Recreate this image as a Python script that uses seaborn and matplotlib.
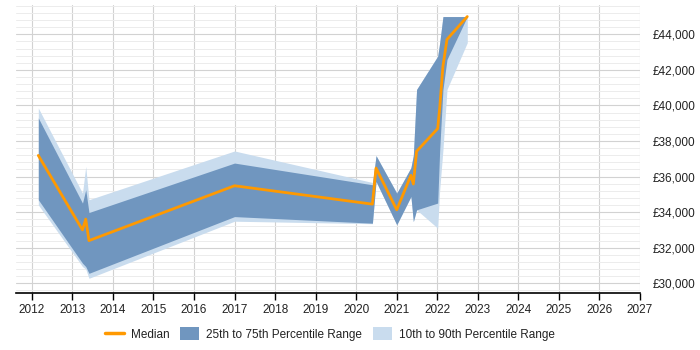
import matplotlib
matplotlib.use("Agg")
import matplotlib.pyplot as plt
from matplotlib.lines import Line2D
from matplotlib.patches import Patch
from matplotlib.ticker import MultipleLocator, FuncFormatter
import seaborn as sns
import pandas as pd

# ---- data ----
years = [2012.16, 2013.25, 2013.33, 2013.41, 2017.0, 2020.40, 2020.49, 2021.0,
         2021.35, 2021.41, 2021.49, 2022.01, 2022.06, 2022.14, 2022.24, 2022.74]
median = [37190, 33000, 33610, 32400, 35485, 34450, 36480, 34130,
          36070, 35580, 37420, 38700, 39860, 42210, 43715, 45000]
p75 = [39300, 34510, 35260, 33980, 36760, 35540, 37180, 35070,
       36500, 37200, 40900, 42770, 43530, 45000, 45000, 45000]
p25 = [34700, 31130, 30940, 30560, 33750, 33380, 35730, 33290,
       34880, 33470, 34130, 34510, 37510, 40900, 42590, 45000]
p90 = [39860, 35070, 36570, 34700, 37440, 35670, 37180, 35070,
       36500, 37200, 40900, 42770, 43530, 45000, 45000, 45000]
p10 = [34410, 30940, 30800, 30280, 33490, 33350, 35730, 33290,
       34880, 33470, 34130, 33100, 35260, 37510, 40900, 43530]
year_ticks = list(range(2012, 2028))
legend_labels = ["Median", "25th to 75th Percentile Range", "10th to 90th Percentile Range"]

df = pd.DataFrame({"year": years, "median": median, "p25": p25, "p75": p75,
                   "p10": p10, "p90": p90})

sns.set_theme(style="white")
plt.rcParams["font.family"] = ["Liberation Sans", "DejaVu Sans"]

ORANGE = "#ff9900"
DARK = "#7096bf"
LIGHT = "#c9dcee"
TEXT = "#222222"

fig = plt.figure(figsize=(7, 3.5), dpi=100)
ax = fig.add_axes([16 / 700, 1 - 292.7 / 350, (640 - 16) / 700, (292.7 - 5) / 350])

ax.fill_between(df["year"], df["p10"], df["p90"], color=LIGHT, linewidth=0, zorder=2)
ax.fill_between(df["year"], df["p25"], df["p75"], color=DARK, linewidth=0, zorder=3)
sns.lineplot(data=df, x="year", y="median", ax=ax, color=ORANGE, linewidth=2,
             zorder=4, legend=False)

ax.set_xlim(2011.61, 2027.0)
ax.set_ylim(29470, 45650)

ax.set_xticks(year_ticks)
ax.set_xticklabels([str(y) for y in year_ticks], fontsize=8.5, color=TEXT)
ax.yaxis.set_major_locator(MultipleLocator(2000))
ax.yaxis.set_minor_locator(MultipleLocator(400))
ax.yaxis.set_major_formatter(FuncFormatter(lambda v, p: f"£{int(v):,}"))
ax.yaxis.tick_right()
ax.tick_params(axis="y", which="both", length=0, pad=9, labelsize=8.5, labelcolor=TEXT)
ax.tick_params(axis="x", which="major", length=5, width=1, color="black",
               pad=3, direction="out", bottom=True)

ax.grid(which="major", axis="y", color="#d2d2d2", linewidth=0.8, zorder=0)
ax.grid(which="minor", axis="y", color="#ececec", linewidth=0.7, zorder=0)
ax.grid(which="major", axis="x", color="#d2d2d2", linewidth=0.8, zorder=0)
ax.set_axisbelow(True)

for s in ["top", "left", "right"]:
    ax.spines[s].set_visible(False)
ax.spines["bottom"].set_color("black")
ax.spines["bottom"].set_linewidth(1.2)
ax.set_xlabel("")
ax.set_ylabel("")

handles = [Line2D([0], [0], color=ORANGE, linewidth=2.5),
           Patch(facecolor=DARK, edgecolor="none"),
           Patch(facecolor=LIGHT, edgecolor="none")]
fig.legend(handles, legend_labels, loc="center", bbox_to_anchor=(330 / 700, 1 - 334 / 350),
           ncol=3, frameon=False, fontsize=8.5, handlelength=1.6, handleheight=1.2,
           columnspacing=0.9, handletextpad=0.6, labelcolor=TEXT)

fig.savefig("out.png", dpi=100)
